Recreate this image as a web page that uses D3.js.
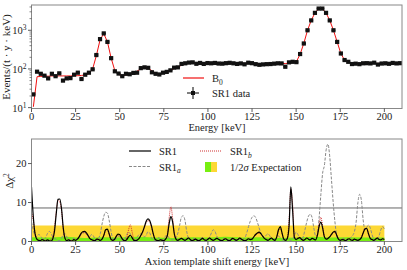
<!DOCTYPE html>
<html><head><meta charset="utf-8">
<script src="https://cdn.jsdelivr.net/npm/d3@7/dist/d3.min.js"></script>
<style>body{margin:0;background:#fff}svg{display:block}text{font-family:"Liberation Serif","DejaVu Serif",serif;fill:#222}</style>
</head><body><svg id="c" width="407" height="270"></svg>
<script>
// ---- top panel data (bin centers, keV) ----
const binCenters = [1.05,3.15,5.25,7.35,9.45,11.55,13.65,15.75,17.85,19.95,22.05,24.15,26.25,28.35,30.45,32.55,34.65,36.75,38.85,40.95,43.05,45.15,47.25,49.35,51.45,53.55,55.65,57.75,59.85,61.95,64.05,66.15,68.25,70.35,72.45,74.55,76.65,78.75,80.85,82.95,85.05,87.15,89.25,91.35,93.45,95.55,97.65,99.75,101.85,103.95,106.05,108.15,110.25,112.35,114.45,116.55,118.65,120.75,122.85,124.95,127.05,129.15,131.25,133.35,135.45,137.55,139.65,141.75,143.85,145.95,148.05,150.15,152.25,154.35,156.45,158.55,160.65,162.75,164.85,166.95,169.05,171.15,173.25,175.35,177.45,179.55,181.65,183.75,185.85,187.95,190.05,192.15,194.25,196.35,198.45,200.55,202.65,204.75,206.85,208.95];
const binHalfWidth = 1.05;
const sr1Data = [22,85,75,67,57,75,65,77,50,57,58,71,80,55,71,80,98,229,590,830,500,190,87,76,65,75,73,79,80,105,110,107,82,75,72,80,84,92,108,110,135,140,146,148,136,143,135,142,140,143,138,137,141,144,140,135,139,132,145,141,133,128,131,133,134,137,140,139,114,148,153,150,243,455,1000,1800,2820,3640,3640,2820,1800,1000,500,251,170,153,134,137,133,140,141,139,145,130,138,140,136,143,139,141];
const b0Model = [10.5,63,64,65,65,66,66,66,66,66,66,67,67,68,70,76,100,220,560,820,500,190,90,72,68,70,73,78,88,100,106,104,90,78,74,78,84,92,102,113,124,134,140,142,142,141,140,140,140,140,139,139,139,139,139,139,139,139,139,139,138,138,138,138,138,138,138,138,138,140,148,155,240,460,1000,1800,2800,3600,3600,2800,1800,1000,500,250,170,150,140,139,139,139,139,139,139,139,139,139,139,139,139,139];
const topYTicks = [10,100,1000];
const topYLabels = ["1","2","3"];
const xTicks = [0,25,50,75,100,125,150,175,200];

// ---- bottom panel data (1 keV grid, 0..200) ----
const shiftEnergy = d3.range(0,201,1);
const sr1Chi2 = [
14.0,6.5,2.0,0.6,0.3,0.2,0.5,0.3,0.1,0.4,
0.2,0.1,0.6,2.5,7.0,10.8,10.9,8.5,3.5,0.8,
0.2,0.4,0.2,0.1,0.5,0.3,0.6,1.2,2.0,2.5,
2.6,2.3,1.6,0.8,0.5,0.3,0.2,0.6,0.5,0.3,
0.6,1.6,3.0,3.2,2.0,0.6,0.3,0.5,1.3,1.9,
1.8,1.0,0.4,0.2,0.5,1.2,1.6,1.0,0.3,0.2,
0.4,0.8,1.6,2.5,3.8,5.2,5.8,5.4,4.0,2.0,
0.6,0.3,0.2,0.4,0.3,0.2,0.6,1.5,4.5,6.4,
5.0,1.8,0.5,0.3,0.6,0.8,0.5,0.3,0.6,0.9,
0.5,0.2,0.4,0.6,0.3,0.2,0.5,0.8,0.4,0.3,
0.6,0.9,0.5,0.3,0.5,0.8,0.6,0.3,0.2,0.5,
0.7,0.4,0.2,0.4,0.8,0.6,0.3,0.5,0.9,0.6,
0.3,0.2,0.4,0.7,0.5,0.6,1.2,1.8,2.2,2.4,
2.0,1.4,0.8,0.5,0.3,0.6,0.9,0.5,0.3,1.2,
3.0,3.8,2.2,0.6,0.3,0.8,4.0,14.0,8.0,1.0,
0.5,0.8,1.0,0.6,0.3,0.5,0.9,0.6,0.4,0.8,
0.6,0.4,1.5,3.8,5.0,3.5,1.2,0.6,0.8,1.2,
1.8,2.4,2.6,1.6,0.6,0.3,0.5,0.4,0.2,0.5,
0.7,0.4,0.3,0.6,0.4,0.3,0.5,1.0,2.2,3.2,
3.4,2.0,0.8,0.5,0.3,0.6,0.9,0.5,0.4,0.7,
0.5];
const sr1aChi2 = [
5.0,3.0,1.5,1.2,1.8,1.5,0.8,0.5,1.0,2.0,
2.6,2.2,1.2,0.8,0.5,0.3,0.2,0.8,1.8,2.0,
1.2,0.5,0.3,0.6,0.8,0.5,0.7,1.2,1.8,2.2,
2.3,2.0,1.4,1.2,1.8,1.5,0.6,0.3,0.8,2.0,
4.5,6.5,7.5,7.3,5.5,2.8,0.8,0.3,0.8,1.4,
1.2,0.5,0.3,0.8,1.8,2.4,2.0,1.0,0.4,0.6,
1.2,1.8,2.0,1.6,1.2,1.6,2.5,2.2,1.0,0.4,
0.3,0.6,1.0,0.7,0.4,0.8,1.4,1.5,0.9,0.5,
0.4,0.6,1.0,2.2,4.2,6.3,6.6,5.4,2.5,0.8,
0.3,0.5,0.8,0.6,0.3,0.4,0.8,1.0,0.6,0.3,
0.5,1.2,2.2,3.0,2.6,1.4,0.6,0.3,0.5,0.8,
0.5,0.3,0.6,0.9,0.5,0.3,0.4,0.7,0.5,0.3,
0.5,1.0,2.2,3.8,5.2,6.2,6.6,6.2,5.0,3.5,
2.2,1.4,1.0,1.6,2.0,1.5,0.8,0.4,0.6,1.0,
1.4,1.0,0.5,0.3,0.6,0.8,0.5,0.3,0.6,1.5,
2.4,1.8,0.8,0.5,1.2,3.0,5.0,6.5,7.0,6.2,
3.5,1.5,1.5,6.0,12.0,17.5,19.5,23.5,25.0,22.0,
16.0,10.0,5.0,1.5,0.5,0.3,0.5,0.8,0.5,0.3,
0.6,1.0,1.5,2.5,5.0,10.0,12.1,10.5,5.5,3.0,
3.6,4.2,3.5,1.8,0.6,0.3,0.6,1.5,3.0,3.8,
3.2];
const sr1bChi2 = [
7.5,5.5,2.2,0.7,0.4,0.3,0.6,0.4,0.2,0.5,
0.3,0.4,1.2,3.5,7.5,10.5,10.2,8.0,3.0,0.7,
0.3,0.5,0.3,0.2,0.6,0.4,0.5,1.0,1.8,2.2,
2.3,2.0,1.4,0.7,0.4,0.3,0.3,0.7,0.6,0.4,
0.7,1.5,2.8,3.0,1.8,0.5,0.3,0.6,1.2,1.7,
1.6,0.9,0.4,0.3,0.9,3.0,4.3,2.5,0.6,0.3,
0.5,0.9,1.5,2.3,3.5,4.8,5.4,5.0,3.6,1.8,
0.5,0.3,0.3,0.5,0.4,0.3,0.7,2.0,6.0,8.9,
6.0,2.0,0.6,0.4,0.7,0.9,0.6,0.4,0.7,1.0,
0.6,0.3,0.5,0.7,0.4,0.3,0.6,0.9,0.5,0.4,
0.7,1.0,0.6,0.4,0.6,0.9,0.7,0.4,0.3,0.6,
0.8,0.5,0.3,0.5,0.9,0.7,0.4,0.6,1.0,0.7,
0.4,0.3,0.5,0.8,0.6,0.7,1.1,1.6,2.0,2.2,
1.8,1.3,0.8,0.6,0.4,0.7,1.0,0.6,0.4,1.1,
2.7,3.5,2.0,0.7,0.4,1.0,5.5,13.5,9.5,1.4,
0.6,0.9,1.1,0.7,0.4,0.6,1.0,0.7,0.5,0.9,
0.7,0.5,1.8,4.5,6.2,4.0,1.4,0.7,0.9,1.3,
1.7,2.2,2.4,1.5,0.7,0.4,0.6,0.5,0.3,0.6,
0.8,0.5,0.4,0.7,0.5,0.4,0.6,1.1,2.4,3.4,
3.2,1.9,0.9,0.6,0.4,0.7,1.0,0.6,0.5,0.8,
0.6];
const bandEnergy = [0,10,20,30,40,50,60,70,80,90,100,110,120,130,140,150,160,170,180,190,200];
const band1Hi = [1.1,1.0,1.2,0.9,1.1,1.0,1.2,1.0,0.9,1.1,1.0,1.2,1.0,1.1,0.9,1.0,1.2,1.0,1.1,1.0,1.0];
const band2Hi = [4.1,4.1,4.1,4.1,4.1,4.1,4.1,4.1,4.1,4.1,4.1,4.1,4.1,4.1,4.1,4.1,4.1,4.1,4.1,4.1,4.1];
const threshold = 8.6;
const botYTicks = [0,10,20];

// ---- drawing ----
const svg = d3.select("#c");
const L = 31.5, R = 402;
const x = d3.scaleLinear().domain([0,210]).range([L,R]);
const yT = d3.scaleLog().domain([9.5,4500]).range([108.5,5]);
const yB = d3.scaleLinear().domain([0,26.3]).range([241.5,139]);
const frameCol = "#888", tickCol = "#333";

function frame(top, bot){
  svg.append("rect").attr("x",L).attr("y",top).attr("width",R-L).attr("height",bot-top)
    .attr("fill","none").attr("stroke",frameCol).attr("stroke-width",1);
}
function xAxis(yPos){
  const g = svg.append("g");
  xTicks.forEach(t=>{
    g.append("line").attr("x1",x(t)).attr("x2",x(t)).attr("y1",yPos).attr("y2",yPos+3.5).attr("stroke",tickCol).attr("stroke-width",0.8);
    g.append("text").attr("x",x(t)).attr("y",yPos+11).attr("text-anchor","middle").attr("font-size",10.5).text(t);
  });
}

// Top panel
svg.append("clipPath").attr("id","ct").append("rect").attr("x",L).attr("y",5).attr("width",R-L).attr("height",103.5);
const gT = svg.append("g").attr("clip-path","url(#ct)");
gT.append("path").datum(binCenters.map((c,i)=>[c,b0Model[i]]))
  .attr("d", d3.line().x(d=>x(d[0])).y(d=>yT(d[1])))
  .attr("fill","none").attr("stroke","#f01010").attr("stroke-width",1);
binCenters.forEach((c,i)=>{
  const yy = yT(sr1Data[i]);
  gT.append("line").attr("x1",x(c-binHalfWidth)).attr("x2",x(c+binHalfWidth)).attr("y1",yy).attr("y2",yy).attr("stroke","#000").attr("stroke-width",1.1);
  gT.append("rect").attr("x",x(c)-2.1).attr("y",yy-2.1).attr("width",4.2).attr("height",4.2).attr("fill","#111");
});
frame(5,108.5);
xAxis(108.5);
const minorT = [];
[10,100,1000].forEach(d=>{for(let k=2;k<=9;k++){const v=d*k; if(v<=4500) minorT.push(v);}});
minorT.forEach(v=>svg.append("line").attr("x1",L).attr("x2",L-2).attr("y1",yT(v)).attr("y2",yT(v)).attr("stroke",tickCol).attr("stroke-width",0.6));
topYTicks.forEach((v,i)=>{
  svg.append("line").attr("x1",L).attr("x2",L-3.5).attr("y1",yT(v)).attr("y2",yT(v)).attr("stroke",tickCol).attr("stroke-width",0.8);
  const t = svg.append("text").attr("x",L-5).attr("y",yT(v)+4).attr("text-anchor","end").attr("font-size",10.5);
  t.append("tspan").text("10");
  t.append("tspan").attr("dy",-4).attr("font-size",7.5).text(topYLabels[i]);
});
svg.append("text").attr("transform","translate(10,57) rotate(-90)").attr("text-anchor","middle").attr("font-size",11).text("Events/(t · y · keV)");
svg.append("text").attr("x",217).attr("y",130.5).attr("text-anchor","middle").attr("font-size",10.5).text("Energy [keV]");
// top legend
svg.append("line").attr("x1",183).attr("x2",204).attr("y1",78).attr("y2",78).attr("stroke","#f01010").attr("stroke-width",1.2);
const tb = svg.append("text").attr("x",212).attr("y",82).attr("font-size",10.5);
tb.append("tspan").text("B");
tb.append("tspan").attr("dy",2.5).attr("font-size",7.5).text("0");
svg.append("line").attr("x1",187).attr("x2",199).attr("y1",93).attr("y2",93).attr("stroke","#000").attr("stroke-width",1);
svg.append("line").attr("x1",193).attr("x2",193).attr("y1",87).attr("y2",99).attr("stroke","#000").attr("stroke-width",1);
svg.append("rect").attr("x",191).attr("y",91).attr("width",4).attr("height",4).attr("fill","#111");
svg.append("text").attr("x",212).attr("y",97).attr("font-size",10.5).text("SR1 data");

// Bottom panel
svg.append("clipPath").attr("id","cb").append("rect").attr("x",L).attr("y",139).attr("width",R-L).attr("height",102.5);
const gB = svg.append("g").attr("clip-path","url(#cb)");
const area2 = d3.area().x((d,i)=>x(bandEnergy[i])).y0(yB(0)).y1(d=>yB(d));
gB.append("path").datum(band2Hi).attr("d",area2).attr("fill","#fdd835");
gB.append("path").datum(band1Hi).attr("d",area2).attr("fill","#77ee11");
gB.append("line").attr("x1",L).attr("x2",R).attr("y1",yB(threshold)).attr("y2",yB(threshold)).attr("stroke","#666").attr("stroke-width",1);
const ln = d3.line().x((d,i)=>x(shiftEnergy[i])).y(d=>yB(d)).curve(d3.curveMonotoneX);
gB.append("path").datum(sr1aChi2).attr("d",ln).attr("fill","none").attr("stroke","#888").attr("stroke-width",1).attr("stroke-dasharray","3,1.5");
gB.append("path").datum(sr1bChi2).attr("d",ln).attr("fill","none").attr("stroke","#d03030").attr("stroke-width",1).attr("stroke-dasharray","1,1");
gB.append("path").datum(sr1Chi2).attr("d",ln).attr("fill","none").attr("stroke","#000").attr("stroke-width",1.2);
frame(139,241.5);
xAxis(241.5);
botYTicks.forEach(v=>{
  svg.append("line").attr("x1",L).attr("x2",L-3.5).attr("y1",yB(v)).attr("y2",yB(v)).attr("stroke",tickCol).attr("stroke-width",0.8);
  svg.append("text").attr("x",L-5).attr("y",yB(v)+3.7).attr("text-anchor","end").attr("font-size",10.5).text(v);
});
const dl = svg.append("text").attr("transform","translate(13,181) rotate(-90)").attr("text-anchor","middle").attr("font-size",11);
dl.append("tspan").text("Δχ");
dl.append("tspan").attr("dy",-4).attr("font-size",7.5).text("2");
svg.append("text").attr("x",217).attr("y",265).attr("text-anchor","middle").attr("font-size",10.5).text("Axion template shift energy [keV]");
// bottom legend
svg.append("line").attr("x1",129).attr("x2",151).attr("y1",151).attr("y2",151).attr("stroke","#000").attr("stroke-width",1.2);
svg.append("text").attr("x",159).attr("y",155).attr("font-size",10.5).text("SR1");
svg.append("line").attr("x1",129).attr("x2",151).attr("y1",166.5).attr("y2",166.5).attr("stroke","#888").attr("stroke-width",1).attr("stroke-dasharray","3,1.5");
const ta = svg.append("text").attr("x",159).attr("y",170.5).attr("font-size",10.5);
ta.append("tspan").text("SR1");
ta.append("tspan").attr("dy",2.5).attr("font-size",7.5).attr("font-style","italic").text("a");
svg.append("line").attr("x1",200).attr("x2",222).attr("y1",151).attr("y2",151).attr("stroke","#d03030").attr("stroke-width",1).attr("stroke-dasharray","1,1");
const tbb = svg.append("text").attr("x",230).attr("y",155).attr("font-size",10.5);
tbb.append("tspan").text("SR1");
tbb.append("tspan").attr("dy",2.5).attr("font-size",7.5).attr("font-style","italic").text("b");
svg.append("rect").attr("x",205).attr("y",162).attr("width",6).attr("height",10).attr("fill","#77ee11");
svg.append("rect").attr("x",211).attr("y",162).attr("width",6).attr("height",10).attr("fill","#fdd835");
const te = svg.append("text").attr("x",230).attr("y",170.5).attr("font-size",10.5);
te.append("tspan").text("1/2");
te.append("tspan").attr("font-style","italic").text("σ");
te.append("tspan").text(" Expectation");
</script></body></html>
